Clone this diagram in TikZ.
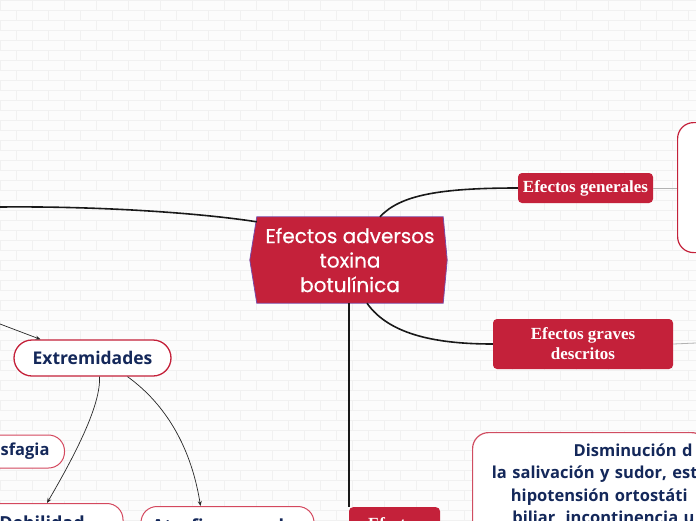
\documentclass[tikz,border=0pt]{standalone}
\usepackage{fontspec}
\setmainfont{Liberation Serif}
\newfontfamily\pop{Poppins}[FakeBold=0.5]
\newfontfamily\osans{Open Sans}
\usetikzlibrary{arrows.meta,backgrounds}
\definecolor{crim}{HTML}{C4213A}
\definecolor{navy}{HTML}{14285A}
\definecolor{cpur}{HTML}{7A4AA8}
\definecolor{brick}{HTML}{F1F1F1}
\definecolor{bgc}{HTML}{FCFCFC}
\definecolor{pinkb}{HTML}{D4485E}
\tikzset{
  centre/.style={minimum width=186pt,minimum height=86pt,inner sep=0pt,text=white,align=center,
    font=\pop\fontsize{20}{24.5}\selectfont},
  redbox/.style={fill=crim,rounded corners=4pt,text=white,align=center,inner sep=0pt,
    font=\bfseries\fontsize{17}{20}\selectfont},
  whitebox/.style={fill=white,draw=crim,line width=1.3pt,rounded corners=16pt,text=navy,
    font=\osans\bfseries\fontsize{16.5}{22.5}\selectfont},
  softbox/.style={whitebox,draw=pinkb,line width=1pt},
  conn/.style={draw=black!90,line width=1.6pt},
  arr/.style={draw=black!85,line width=0.7pt,-{Stealth[length=5pt,width=4pt]}},
  side/.style={draw=gray!60,line width=0.8pt}
}
\begin{document}
\begin{tikzpicture}[x=1pt,y=-1pt]
\useasboundingbox (0,0) rectangle (696,520);
\begin{scope}[on background layer]
\fill[bgc] (0,0) rectangle (696,520);
\foreach \r in {0,...,52} {
  \draw[brick,line width=0.5pt] (0,\r*10) -- (696,\r*10);
  \pgfmathsetmacro\off{mod(\r,2)*16}
  \foreach \c in {0,...,22} \draw[brick,line width=0.5pt] (\off+\c*32,\r*10) -- ++(0,10);
}
\end{scope}

% nodes
\node[centre] (c) at (350,260) {Efectos adversos\\toxina\\botulínica};
\begin{scope}[on background layer]
\draw[fill=crim,draw=cpur,line width=0.8pt] (c.north west) -- (c.north east) -- ([xshift=4pt]c.east)
  -- (c.south east) -- (c.south west) -- ([xshift=-7pt]c.west) -- cycle;
\end{scope}

\node[redbox,minimum width=135pt,minimum height=30pt] (eg) at (585.5,188) {Efectos generales};
\node[redbox,minimum width=180pt,minimum height=50pt] (egr) at (583,344) {Efectos graves\\descritos};
\node[redbox,anchor=north,minimum width=91pt,inner ysep=10pt] (eb) at (394.5,507) {Efectos\\[10pt]};

\node[whitebox,anchor=north west,minimum width=60pt,minimum height=130pt,line width=1.2pt] (rt) at (677,122) {};
\node[whitebox,anchor=north west,align=right,text width=215pt,inner xsep=10pt,inner ysep=11pt,
  line width=1.2pt,draw=crim!80] (rb) at (472,432)
  {Disminución d\kern5pt\\la salivación y sudor, est\\hipotensión ortostáti\kern10pt\\biliar, incontinencia u\kern3pt};

\node[whitebox,minimum width=157pt,minimum height=36pt,rounded corners=18pt,inner sep=0pt,
  font=\osans\bfseries\fontsize{17.5}{22}\selectfont] (ext) at (92.5,358) {Extremidades};
\node[softbox,anchor=east,minimum height=33pt,inner xsep=15pt,inner ysep=0pt] (dis) at (65,451.5) {Disfagia};
\node[softbox,anchor=north,minimum width=162pt,inner ysep=12pt,align=center,
  font=\osans\bfseries\fontsize{18}{22}\selectfont] (deb) at (42,503) {Debilidad\\[10pt]};
\node[softbox,anchor=north,minimum width=173pt,inner ysep=12pt,align=center,
  font=\osans\bfseries\fontsize{18}{22}\selectfont] (atr) at (227.5,506) {Atrofia muscular\\[10pt]};

% connectors
\coordinate (L) at (0,207);
\draw[conn] ([yshift=-5pt]c.north west) .. controls (200,213) and (100,206) .. (L);
\draw[conn] ([xshift=30pt]c.north) .. controls (400,195) and (440,188) .. (eg.west);
\draw[conn] ([xshift=17pt]c.south) .. controls (390,336) and (440,344) .. (egr.west);
\draw[conn] (c.south -| eb.north west) -- (eb.north west);
\draw[side] (eg.east) -- (eg.east -| rt.west);
\coordinate (R2) at (696,343);
\draw[side] (egr.east) -- (R2);

\coordinate (A0) at (0,324);
\draw[arr] (A0) -- ([xshift=-52pt]ext.north);
\draw[arr] ([xshift=7pt]ext.south) .. controls (101,405) and (75,455) .. ([xshift=5pt]deb.north);
\draw[arr] ([xshift=35pt]ext.south) .. controls (160,400) and (190,440) .. ([xshift=-27pt]atr.north);
\end{tikzpicture}
\end{document}
